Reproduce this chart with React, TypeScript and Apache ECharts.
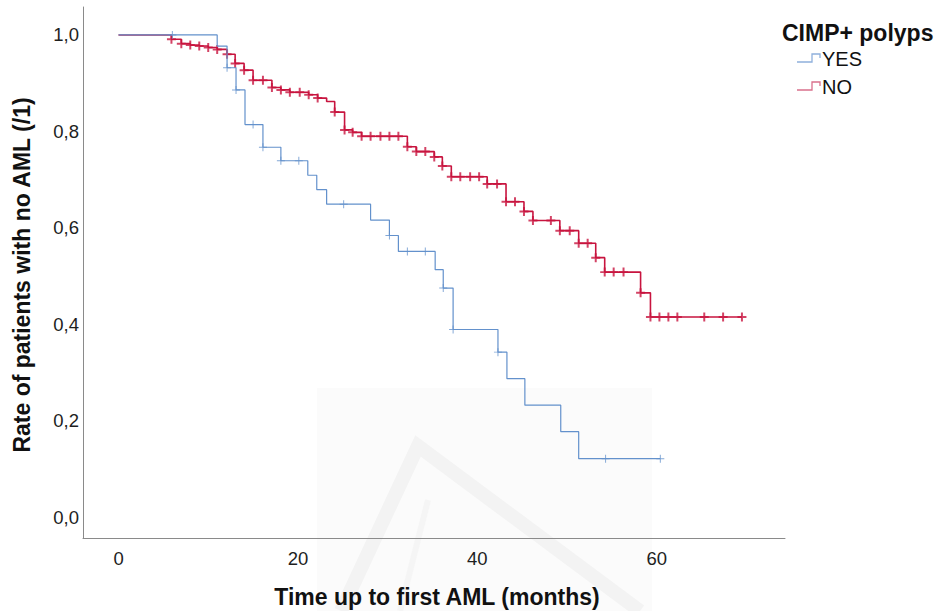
import React, { useEffect, useRef } from "react";
import * as echarts from "echarts";

// ---- data ----
const xTickValues = [0, 20, 40, 60];
const yTickValues = [0, 0.2, 0.4, 0.6, 0.8, 1.0];

// Kaplan-Meier steps [time (months), survival after the drop]
const yesSteps: [number, number][] = [
  [0, 1], [11.0, 0.977], [12.1, 0.932], [13.1, 0.886], [14.1, 0.814], [16.1, 0.767],
  [18.1, 0.739], [21.1, 0.709], [22.1, 0.679], [23.2, 0.649], [28.1, 0.616], [30.2, 0.584],
  [31.2, 0.551], [35.3, 0.513], [36.2, 0.475], [37.3, 0.389], [42.3, 0.342], [43.3, 0.287],
  [45.3, 0.232], [49.3, 0.177], [51.3, 0.121],
];
const yesEnd = 60.4;
const yesCensored = [6.0, 12.1, 13.1, 15.0, 16.1, 18.1, 20.1, 25.1, 30.2, 32.2, 34.2, 36.2, 37.3, 42.3, 54.3, 60.4];

const noSteps: [number, number][] = [
  [0, 1], [5.9, 0.991], [7.0, 0.982], [8.0, 0.979], [9.0, 0.977], [10.0, 0.974], [11.0, 0.970],
  [12.1, 0.960], [13.0, 0.941], [14.0, 0.927], [15.0, 0.906], [17.1, 0.891], [18.1, 0.886],
  [19.1, 0.881], [21.2, 0.876], [22.2, 0.869], [23.2, 0.862], [24.1, 0.840], [25.2, 0.803],
  [26.1, 0.798], [27.1, 0.790], [32.2, 0.768], [33.2, 0.758], [35.2, 0.747], [36.1, 0.728],
  [37.1, 0.706], [41.1, 0.691], [43.2, 0.654], [45.2, 0.634], [46.2, 0.615], [49.2, 0.594],
  [51.3, 0.568], [53.2, 0.538], [54.2, 0.508], [58.2, 0.465], [59.3, 0.415],
];
const noEnd = 69.5;
const noCensored = [
  5.9, 7.0, 8.0, 9.0, 10.0, 11.0, 12.1, 13.0, 14.0, 15.0, 16.1, 17.1, 18.1, 19.1, 20.2, 21.2,
  22.2, 24.1, 25.2, 26.1, 27.1, 28.1, 29.2, 30.2, 31.2, 32.2, 33.2, 34.2, 35.2, 36.1, 37.1,
  38.1, 39.2, 40.2, 41.1, 42.2, 43.2, 44.2, 45.2, 46.2, 48.2, 49.2, 50.3, 51.3, 52.3, 53.2,
  54.2, 55.2, 56.3, 58.2, 59.3, 60.3, 61.3, 62.3, 65.3, 67.4, 69.5,
];

const groupNames = ["YES", "NO"];
const legendTitle = "CIMP+ polyps";
const xTitle = "Time up to first AML (months)";
const yTitle = "Rate of patients with no AML (/1)";

// ---- helpers ----
function valueAt(steps: [number, number][], t: number): number {
  let v = steps[0][1];
  for (const [st, sv] of steps) {
    if (st <= t + 1e-9) v = sv;
  }
  return v;
}
function lineData(steps: [number, number][], end: number) {
  const d = steps.map((s) => [s[0], s[1]]);
  d.push([end, steps[steps.length - 1][1]]);
  return d;
}
function censorData(steps: [number, number][], times: number[]) {
  return times.map((t) => [t, valueAt(steps, t)]);
}

const BLUE = "#6391CC";
const RED = "#C8143F";
const FONT = "'Liberation Sans', Arial, Helvetica, sans-serif";
const plusThick = "path://M3.9,0H6.1V3.9H10V6.1H6.1V10H3.9V6.1H0V3.9H3.9Z";
const plusThin = "path://M4.4,0H5.6V4.4H10V5.6H5.6V10H4.4V5.6H0V4.4H4.4Z";

export default function App() {
  const ref = useRef<HTMLDivElement>(null);
  useEffect(() => {
    if (!ref.current) return;
    const chart = echarts.init(ref.current, null, { renderer: "svg" });
    const option: any = {
      animation: false,
      backgroundColor: "#ffffff",
      grid: { left: 83, top: 7, width: 702, height: 531.5, containLabel: false },
      xAxis: {
        type: "value",
        min: -3.96,
        max: 74.3,
        axisLine: { show: true, onZero: false, lineStyle: { color: "#8a8a8a", width: 1 } },
        axisTick: { show: false },
        splitLine: { show: false },
        axisLabel: {
          customValues: xTickValues,
          color: "#1e1e1e",
          fontSize: 18.5,
          fontFamily: FONT,
          margin: 10,
        },
      },
      yAxis: {
        type: "value",
        min: -0.0446,
        max: 1.058,
        axisLine: { show: true, onZero: false, lineStyle: { color: "#8a8a8a", width: 1 } },
        axisTick: { show: false },
        splitLine: { show: false },
        axisLabel: {
          customValues: yTickValues,
          formatter: (v: number) => v.toFixed(1).replace(".", ","),
          color: "#1e1e1e",
          fontSize: 18.5,
          fontFamily: FONT,
          margin: 4,
        },
      },
      graphic: [
        // faint watermark in the background
        {
          type: "rect",
          z: -10,
          silent: true,
          shape: { x: 317, y: 388, width: 335, height: 223 },
          style: { fill: "#fbfbfb" },
        },
        {
          type: "polyline",
          z: -9,
          silent: true,
          shape: { points: [[341, 611], [418, 446], [640, 611]] },
          style: { stroke: "#f3f3f3", lineWidth: 14, fill: null },
        },
        {
          type: "line",
          z: -9,
          silent: true,
          shape: { x1: 428, y1: 500, x2: 400, y2: 611 },
          style: { stroke: "#f5f5f5", lineWidth: 6 },
        },
        // axis titles
        {
          type: "text",
          x: 22,
          y: 275,
          rotation: Math.PI / 2,
          style: {
            text: yTitle,
            fill: "#111",
            font: `bold 23px ${FONT}`,
            align: "center",
            verticalAlign: "middle",
          },
        },
        {
          type: "text",
          x: 437,
          y: 597,
          style: {
            text: xTitle,
            fill: "#111",
            font: `bold 23px ${FONT}`,
            align: "center",
            verticalAlign: "middle",
          },
        },
        // legend
        {
          type: "text",
          x: 782,
          y: 33,
          style: {
            text: legendTitle,
            fill: "#111",
            font: `bold 23px ${FONT}`,
            align: "left",
            verticalAlign: "middle",
          },
        },
        {
          type: "polyline",
          shape: { points: [[797, 62], [812, 62], [812, 54], [820, 54], [820, 58]] },
          style: { stroke: "#8fb0dc", lineWidth: 1.3, fill: null },
        },
        {
          type: "text",
          x: 822,
          y: 59,
          style: {
            text: groupNames[0],
            fill: "#111",
            font: `20px ${FONT}`,
            align: "left",
            verticalAlign: "middle",
          },
        },
        {
          type: "polyline",
          shape: { points: [[797, 90], [812, 90], [812, 82], [820, 82], [820, 86]] },
          style: { stroke: "#d9708c", lineWidth: 1.3, fill: null },
        },
        {
          type: "text",
          x: 822,
          y: 87,
          style: {
            text: groupNames[1],
            fill: "#111",
            font: `20px ${FONT}`,
            align: "left",
            verticalAlign: "middle",
          },
        },
      ],
      series: [
        {
          name: groupNames[1],
          type: "line",
          step: "end",
          data: lineData(noSteps, noEnd),
          showSymbol: false,
          symbol: "none",
          lineStyle: { color: RED, width: 1.6 },
          z: 3,
        },
        {
          name: groupNames[1] + " censored",
          type: "scatter",
          data: censorData(noSteps, noCensored),
          symbol: plusThick,
          symbolSize: 9,
          itemStyle: { color: RED },
          z: 4,
        },
        {
          name: groupNames[0],
          type: "line",
          step: "end",
          data: lineData(yesSteps, yesEnd),
          showSymbol: false,
          symbol: "none",
          lineStyle: { color: BLUE, width: 1.2 },
          z: 5,
        },
        {
          name: groupNames[0] + " censored",
          type: "scatter",
          data: censorData(yesSteps, yesCensored),
          symbol: plusThin,
          symbolSize: 8,
          itemStyle: { color: BLUE },
          z: 6,
        },
      ],
    };
    chart.setOption(option);
    return () => chart.dispose();
  }, []);
  return (
    <div
      ref={ref}
      style={{ position: "absolute", left: 0, top: 0, width: 952, height: 611 }}
    />
  );
}
